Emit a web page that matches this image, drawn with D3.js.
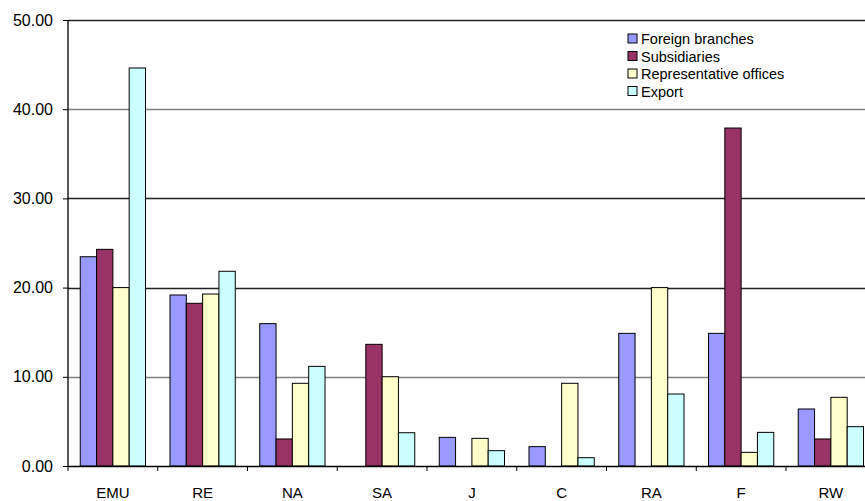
<!DOCTYPE html>
<html>
<head>
<meta charset="utf-8">
<script src="https://cdn.jsdelivr.net/npm/d3@7"></script>
<style>
  body { margin: 0; background: #fff; }
  svg { display: block; font-family: "Liberation Sans", Arial, sans-serif; }
</style>
</head>
<body>
<div id="chart"></div>
<script>
var categories = ["EMU", "RE", "NA", "SA", "J", "C", "RA", "F", "RW"];
var seriesNames = ["Foreign branches", "Subsidiaries", "Representative offices", "Export"];

var foreignBranches = [23.46, 19.17, 15.96, 0, 3.21, 2.17, 14.87, 14.87, 6.39];
var subsidiaries    = [24.29, 18.24, 3.03, 13.64, 0, 0, 0, 37.89, 3.03];
var repOffices      = [20.0, 19.28, 9.27, 10.01, 3.10, 9.27, 20.0, 1.53, 7.70];
var exportVals      = [44.62, 21.83, 11.17, 3.73, 1.72, 0.93, 8.07, 3.77, 4.41];

var yTicks = [0, 10, 20, 30, 40, 50];

var colors = ["#9999ff", "#993366", "#ffffcc", "#ccffff"];

var series = [foreignBranches, subsidiaries, repOffices, exportVals];

var W = 865, H = 501;
var plotLeft = 68, plotTop = 20, plotBottom = 466;
var step = 89.75;
var plotRight = plotLeft + step * categories.length;

var svg = d3.select("#chart")
  .append("svg")
  .attr("width", W)
  .attr("height", H);

var x0 = d3.scaleBand()
  .domain(categories)
  .range([plotLeft, plotRight])
  .padding(0);

var bw = x0.bandwidth();
var x1 = d3.scaleBand()
  .domain(d3.range(series.length))
  .range([bw * 0.75 / 5.5, bw - bw * 0.75 / 5.5])
  .padding(0);

var y = d3.scaleLinear()
  .domain([0, 50])
  .range([plotBottom, plotTop]);

// gridlines
svg.append("g")
  .selectAll("line")
  .data(yTicks.filter(function(d) { return d > 0; }))
  .enter()
  .append("line")
  .attr("x1", plotLeft)
  .attr("x2", W)
  .attr("y1", function(d) { return Math.round(y(d)) + 0.5; })
  .attr("y2", function(d) { return Math.round(y(d)) + 0.5; })
  .attr("stroke", function(d) { return (d === 40 || d === 10) ? "#808080" : "#222"; })
  .attr("stroke-width", 1.3);

// bars
var groups = svg.append("g")
  .selectAll("g")
  .data(categories)
  .enter()
  .append("g")
  .attr("transform", function(d) { return "translate(" + x0(d) + ",0)"; });

groups.selectAll("rect")
  .data(function(d, i) {
    return series.map(function(s, k) { return { k: k, v: s[i] }; })
      .filter(function(e) { return e.v > 0; });
  })
  .enter()
  .append("rect")
  .attr("x", function(d) { return x1(d.k); })
  .attr("y", function(d) { return y(d.v); })
  .attr("width", x1.bandwidth())
  .attr("height", function(d) { return y(0) - y(d.v); })
  .attr("fill", function(d) { return colors[d.k]; })
  .attr("stroke", "#000")
  .attr("stroke-width", 1);

// y axis
var yAxis = svg.append("g")
  .attr("transform", "translate(" + plotLeft + ",0)")
  .call(d3.axisLeft(y)
    .tickValues(yTicks)
    .tickSize(5)
    .tickPadding(10)
    .tickFormat(d3.format(".2f")));
yAxis.select(".domain").attr("stroke", "#000").attr("stroke-width", 1.3)
  .attr("d", "M0," + plotTop + "V" + plotBottom);
yAxis.selectAll(".tick line").attr("stroke", "#000");
yAxis.selectAll("text")
  .attr("font-size", "16px")
  .attr("fill", "#000")
  .attr("font-family", "Liberation Sans, Arial, sans-serif");

// x axis
var xTickScale = d3.scaleLinear().domain([0, categories.length]).range([plotLeft, plotRight]);
var xAxis = svg.append("g")
  .attr("transform", "translate(0," + plotBottom + ")");
xAxis.append("line")
  .attr("x1", plotLeft).attr("x2", W)
  .attr("y1", 0.5).attr("y2", 0.5)
  .attr("stroke", "#000").attr("stroke-width", 1.3);
xAxis.selectAll(".xt")
  .data(d3.range(categories.length + 1))
  .enter()
  .append("line")
  .attr("class", "xt")
  .attr("x1", function(d) { return xTickScale(d); })
  .attr("x2", function(d) { return xTickScale(d); })
  .attr("y1", 0).attr("y2", 5)
  .attr("stroke", "#000");
xAxis.selectAll(".xl")
  .data(categories)
  .enter()
  .append("text")
  .attr("class", "xl")
  .attr("x", function(d) { return x0(d) + bw / 2; })
  .attr("y", 32)
  .attr("text-anchor", "middle")
  .attr("font-size", "15px")
  .text(function(d) { return d; });

// legend
var legend = svg.append("g")
  .attr("transform", "translate(628,34)");
var item = legend.selectAll("g")
  .data(seriesNames)
  .enter()
  .append("g")
  .attr("transform", function(d, i) { return "translate(0," + (i * 17.5) + ")"; });
item.append("rect")
  .attr("width", 9)
  .attr("height", 9)
  .attr("fill", function(d, i) { return colors[i]; })
  .attr("stroke", "#000");
item.append("text")
  .attr("x", 13)
  .attr("y", 10)
  .attr("font-size", "14.5px")
  .text(function(d) { return d; });
</script>
</body>
</html>
